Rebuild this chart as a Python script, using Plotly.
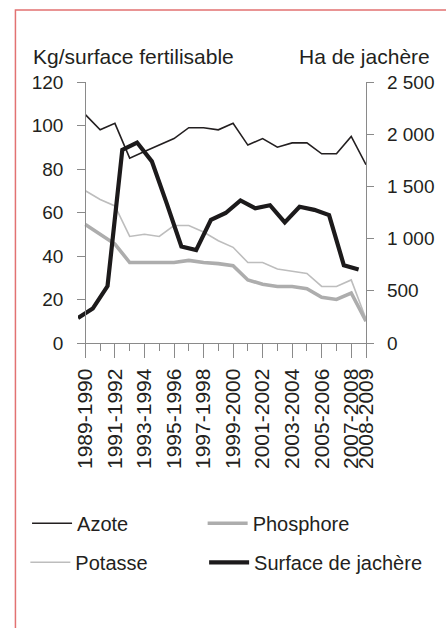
import plotly.graph_objects as go

# ---------------- data ----------------
periods = ["1989-1990", "1990-1991", "1991-1992", "1992-1993", "1993-1994",
           "1994-1995", "1995-1996", "1996-1997", "1997-1998", "1998-1999",
           "1999-2000", "2000-2001", "2001-2002", "2002-2003", "2003-2004",
           "2004-2005", "2005-2006", "2006-2007", "2007-2008", "2008-2009"]
azote = [105, 98, 101, 85, 88, 91, 94, 99, 99, 98,
         101, 91, 94, 90, 92, 92, 87, 87, 95, 82]
phosphore = [54.5, 50, 45.5, 37, 37, 37, 37, 38, 37, 36.5,
             35.5, 29, 27, 26, 26, 25, 21, 20, 23, 10]
potasse = [70, 66, 63, 49, 50, 49, 54, 54, 51, 47,
           44, 37, 37, 34, 33, 32, 26, 26, 29, 11]
jachere = [240, 330, 545, 1850, 1920, 1740, 1340, 925, 890, 1180,
           1245, 1365, 1290, 1320, 1155, 1305, 1275, 1225, 745, 705]

x_tick_labels = ["1989-1990", "1991-1992", "1993-1994", "1995-1996", "1997-1998",
                 "1999-2000", "2001-2002", "2003-2004", "2005-2006", "2007-2008",
                 "2008-2009"]
y_left_ticks = [0, 20, 40, 60, 80, 100, 120]
y_right_ticks = [0, 500, 1000, 1500, 2000, 2500]
y_right_labels = ["0", "500", "1 000", "1 500", "2 000", "2 500"]

# ---------------- layout geometry ----------------
W, H = 446, 628
ML, MR, MT, MB = 78, 78, 82, 285
PW = W - ML - MR
PH = H - MT - MB


def px_x(p):
    return (p - ML) / PW


def px_y(p):
    return (H - MB - p) / PH


FONT = "Liberation Sans, Arial, Helvetica, sans-serif"
TXT = "#231f20"
AX = "#8a8a8a"

idx = list(range(len(periods)))
tickvals = [periods.index(t) for t in x_tick_labels]
minor_vals = [i for i in idx if i not in tickvals]

fig = go.Figure()

fig.add_trace(go.Scatter(x=idx, y=potasse, mode="lines", name="Potasse",
                         line=dict(color="#bdbdbd", width=1.6),
                         customdata=periods, legend="legend3"))
fig.add_trace(go.Scatter(x=idx, y=phosphore, mode="lines", name="Phosphore",
                         line=dict(color="#adadad", width=3.6),
                         customdata=periods, legend="legend2"))
fig.add_trace(go.Scatter(x=idx, y=azote, mode="lines", name="Azote",
                         line=dict(color="#231f20", width=1.6),
                         customdata=periods, legend="legend"))
fig.add_trace(go.Scatter(x=idx, y=jachere, mode="lines", name="Surface de jachère",
                         line=dict(color="#1c1a1b", width=4.2),
                         customdata=periods, xaxis="x2", yaxis="y2",
                         legend="legend4"))

leg_common = dict(orientation="h", bgcolor="rgba(0,0,0,0)", borderwidth=0,
                  font=dict(family=FONT, size=20, color=TXT),
                  itemwidth=40, xanchor="left", yanchor="middle")

fig.update_layout(
    width=W, height=H,
    margin=dict(l=ML, r=MR, t=MT, b=MB, pad=0),
    paper_bgcolor="white", plot_bgcolor="white",
    font=dict(family=FONT, color=TXT),
    showlegend=True,
    xaxis=dict(
        range=[-0.5, len(periods) - 1], showgrid=False, zeroline=False,
        showline=True, linecolor=AX, linewidth=1.3,
        tickmode="array", tickvals=tickvals, ticktext=x_tick_labels,
        ticks="outside", ticklen=14, tickwidth=1.3, tickcolor=AX,
        tickangle=-90, tickfont=dict(family=FONT, size=21, color=TXT),
        ticklabelstandoff=2,
        minor=dict(tickmode="array", tickvals=minor_vals, ticks="outside",
                   ticklen=7, tickwidth=1.3, tickcolor=AX),
        anchor="y", fixedrange=True,
    ),
    xaxis2=dict(range=[0, len(periods) - 0.5], overlaying="x", anchor="y2",
                visible=False, showgrid=False, zeroline=False),
    yaxis=dict(
        range=[0, 120], showgrid=False, zeroline=False,
        showline=True, linecolor=AX, linewidth=1.3,
        anchor="free", position=px_x(ML + 0.5 * PW / (len(periods) - 0.5)),
        tickmode="array", tickvals=y_left_ticks,
        ticks="outside", ticklen=8, tickwidth=1.3, tickcolor=AX,
        tickfont=dict(family=FONT, size=19, color=TXT),
        ticklabelstandoff=10,
    ),
    yaxis2=dict(
        range=[0, 2500], overlaying="y", side="right", anchor="x2",
        showgrid=False, zeroline=False,
        showline=True, linecolor=AX, linewidth=1.3,
        tickmode="array", tickvals=y_right_ticks, ticktext=y_right_labels,
        ticks="outside", ticklen=7, tickwidth=1.3, tickcolor=AX,
        tickfont=dict(family=FONT, size=19, color=TXT),
        ticklabelstandoff=9,
    ),
    legend=dict(x=px_x(26.7), y=px_y(523.3), **leg_common),
    legend2=dict(x=px_x(203.5), y=px_y(523.3), **leg_common),
    legend3=dict(x=px_x(25), y=px_y(562.3), **leg_common),
    legend4=dict(x=px_x(205), y=px_y(562.3), **leg_common),
)

fig.add_annotation(text="Kg/surface fertilisable", xref="paper", yref="paper",
                   x=px_x(31), y=px_y(56), xanchor="left", yanchor="middle",
                   showarrow=False, font=dict(family=FONT, size=21, color=TXT))
fig.add_annotation(text="Ha de jachère", xref="paper", yref="paper",
                   x=px_x(434), y=px_y(56), xanchor="right", yanchor="middle",
                   showarrow=False, font=dict(family=FONT, size=21, color=TXT))
fig.add_annotation(text="Figure", xref="paper", yref="paper",
                   x=px_x(1), y=px_y(2), xanchor="left", yanchor="bottom",
                   showarrow=False, font=dict(family=FONT, size=20, color=TXT))

# red frame (top and left edges visible; the rest runs off the page)
fig.add_shape(type="rect", xref="paper", yref="paper",
              x0=px_x(15), x1=px_x(470), y0=px_y(650), y1=px_y(10),
              line=dict(color="#e27272", width=1.5), fillcolor="rgba(0,0,0,0)",
              layer="below")

fig.write_html(
    "out.html",
    config={"displayModeBar": False},
    post_script="document.body.style.margin='0';document.body.style.overflow='hidden';",
)
